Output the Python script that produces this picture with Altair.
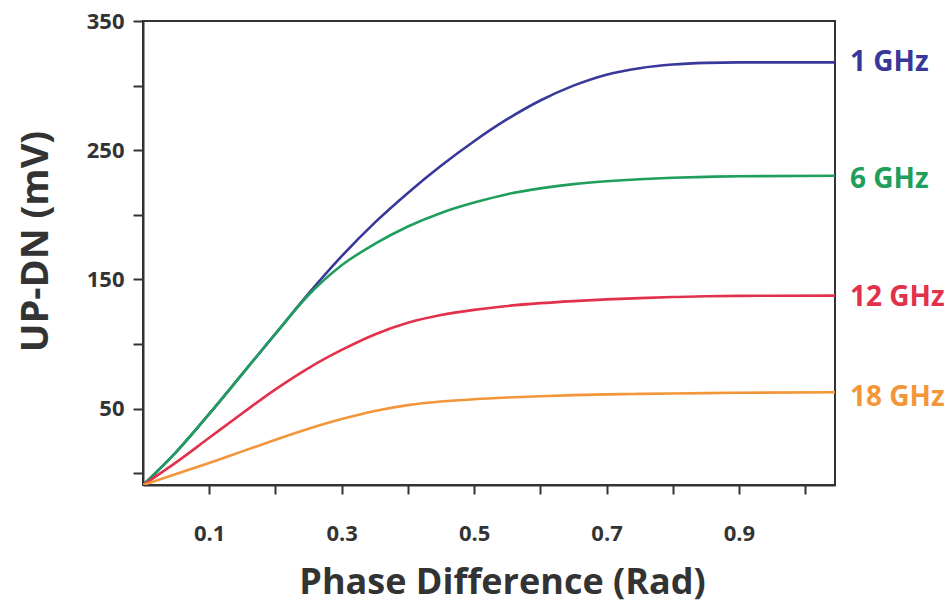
import altair as alt
import pandas as pd

# ---- data ----
phase = [0.0, 0.05, 0.10, 0.15, 0.20, 0.25, 0.30, 0.35, 0.40, 0.45, 0.50,
         0.55, 0.60, 0.65, 0.70, 0.75, 0.80, 0.85, 0.90, 1.045]
v_1ghz = [-9, 16.5, 46, 77, 108, 139, 168, 194, 217, 238, 257,
          274, 288.5, 300, 308.5, 313.5, 316.3, 317.6, 318, 318]
v_6ghz = [-9, 16.5, 46, 77, 108, 138, 161, 177.5, 191, 201.5, 209.5,
          216, 220.5, 223.8, 226, 227.6, 228.7, 229.4, 229.9, 230.3]
v_12ghz = [-9, 8.5, 27.5, 46.5, 65, 81.5, 95.5, 107.5, 116.5, 122.5, 126.5,
           129.5, 131.7, 133.3, 134.6, 135.6, 136.4, 137, 137.3, 137.5]
v_18ghz = [-9, -0.5, 8, 17, 26, 34.5, 42, 48.3, 52.8, 55.6, 57.4,
           58.7, 59.7, 60.5, 61.1, 61.5, 61.8, 62.1, 62.4, 62.8]

series_names = ["1 GHz", "6 GHz", "12 GHz", "18 GHz"]
series_vals = [v_1ghz, v_6ghz, v_12ghz, v_18ghz]
series_colors = ["#38389a", "#1f9e5c", "#e2314b", "#f3963a"]
label_vals = [317.5, 227, 135.5, 58]

x_ticks = [0.1, 0.2, 0.3, 0.4, 0.5, 0.6, 0.7, 0.8, 0.9, 1.0]
y_ticks = [0, 50, 100, 150, 200, 250, 300, 350]

rows = []
for name, vals in zip(series_names, series_vals):
    for x, y in zip(phase, vals):
        rows.append({"series": name, "phase": x, "value": y})
df = pd.DataFrame(rows)

labels = pd.DataFrame({
    "series": series_names,
    "phase": [phase[-1]] * 4,
    "value": label_vals,
})

FONT = "Open Sans"
color_scale = alt.Scale(domain=series_names, range=series_colors)

x_enc = alt.X("phase:Q",
              scale=alt.Scale(domain=[0, 1.045], nice=False, zero=False),
              axis=alt.Axis(values=x_ticks, format=".1f",
                            labelExpr="round(datum.value*10) % 2 == 1 ? datum.label : ''",
                            title="Phase Difference (Rad)",
                            tickSize=9, labelPadding=29, titlePadding=21, titleX=359,
                            labelFontSize=22, titleFontSize=36, grid=False))
y_enc = alt.Y("value:Q",
              scale=alt.Scale(domain=[-9, 350], nice=False, zero=False),
              axis=alt.Axis(values=y_ticks,
                            labelExpr="datum.value % 100 == 50 ? datum.label : ''",
                            title="UP-DN (mV)",
                            tickSize=10, labelPadding=9, titlePadding=31, titleY=220,
                            labelFontSize=22, titleFontSize=38, grid=False))

lines = alt.Chart(df).mark_line(strokeWidth=2.6, interpolate="monotone", clip=True).encode(
    x=x_enc, y=y_enc,
    color=alt.Color("series:N", scale=color_scale, legend=None),
    detail="series:N",
)

text = alt.Chart(labels).mark_text(align="left", baseline="middle", dx=15, dy=0,
                                    fontSize=28, fontWeight="bold", font=FONT).encode(
    x="phase:Q", y="value:Q",
    text="series:N",
    color=alt.Color("series:N", scale=color_scale, legend=None),
)

chart = (lines + text).properties(
    width=692, height=464,
    autosize=alt.AutoSizeParams(type="none"),
    padding={"left": 135, "top": 13, "right": 109, "bottom": 118},
).configure_view(
    stroke="#333333", strokeWidth=2
).configure_axis(
    domainColor="#333333", domainWidth=2,
    tickColor="#333333", tickWidth=2,
    labelColor="#333333", labelFont=FONT, labelFontWeight="bold",
    titleColor="#333333", titleFont=FONT, titleFontWeight="bold",
)

chart.save("out.html", embed_options={"renderer": "svg", "actions": False})
